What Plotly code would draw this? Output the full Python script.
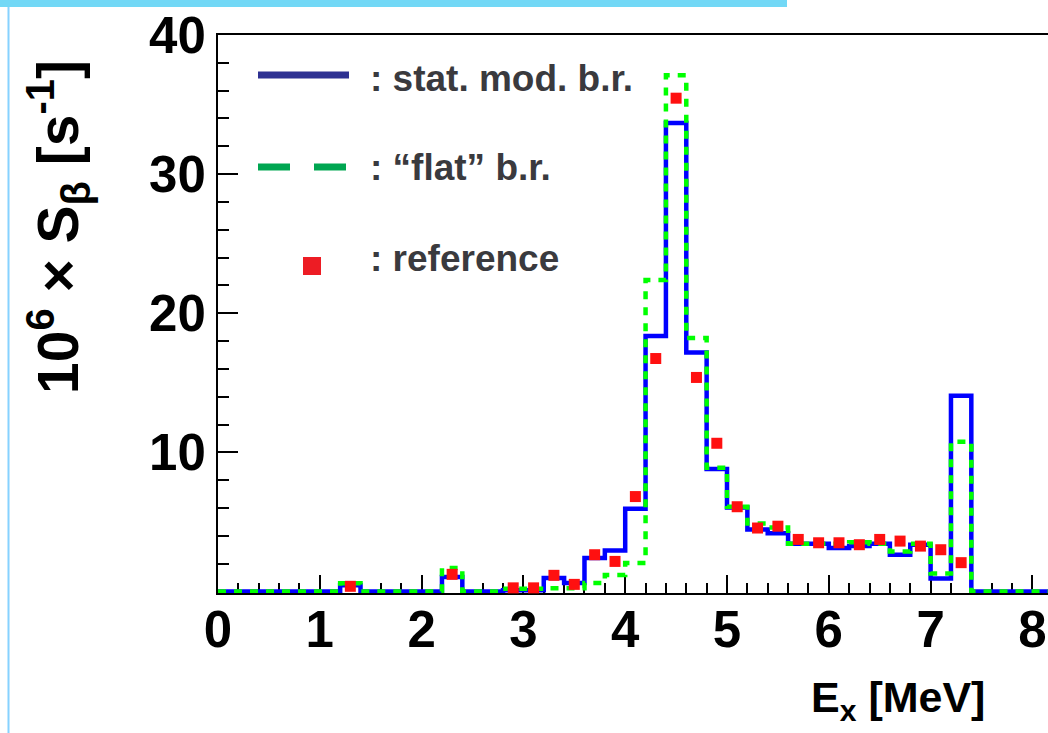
import plotly.graph_objects as go

# Excitation-energy bins (left edges, MeV), 0.2 MeV wide
bin_left = [0.0, 0.2, 0.4, 0.6, 0.8, 1.0, 1.2, 1.4, 1.6, 1.8,
            2.0, 2.2, 2.4, 2.6, 2.8, 3.0, 3.2, 3.4, 3.6, 3.8,
            4.0, 4.2, 4.4, 4.6, 4.8, 5.0, 5.2, 5.4, 5.6, 5.8,
            6.0, 6.2, 6.4, 6.6, 6.8, 7.0, 7.2, 7.4, 7.6, 7.8,
            8.0]
bin_right_end = 8.2

# Beta strength, statistical-model branching ratios
stat_mod = [0, 0, 0, 0, 0, 0, 0.45, 0, 0, 0,
            0, 1.05, 0, 0, 0.1, 0.1, 0.98, 0.62, 2.41, 2.96,
            5.95, 18.37, 33.67, 17.18, 8.82, 6.05, 4.46, 4.2, 3.44, 3.44,
            3.13, 3.27, 3.44, 2.65, 3.37, 0.95, 14.07, 0, 0, 0,
            0]

# Beta strength, "flat" branching ratios
flat_br = [0, 0, 0, 0, 0, 0, 0.6, 0, 0, 0,
           0, 1.7, 0, 0, 0.2, 0.2, 0.25, 0.25, 0.62, 1.2,
           2.05, 22.39, 37.1, 18.23, 8.9, 6.1, 4.9, 4.6, 3.44, 3.44,
           3.44, 3.55, 3.44, 2.89, 3.44, 1.3, 10.77, 0, 0, 0,
           0]

# Reference strength at bin centres
ref_e = [1.3, 2.3, 2.9, 3.1, 3.3, 3.5, 3.7, 3.9, 4.1, 4.3, 4.5, 4.7, 4.9,
         5.1, 5.3, 5.5, 5.7, 5.9, 6.1, 6.3, 6.5, 6.7, 6.9, 7.1, 7.3]
ref_s = [0.38, 1.24, 0.27, 0.27, 1.17, 0.52, 2.65, 2.17, 6.83, 16.75, 35.46, 15.39, 10.66,
         6.1, 4.57, 4.7, 3.75, 3.51, 3.51, 3.37, 3.75, 3.63, 3.27, 3.01, 2.08]

legend_labels = [": stat. mod. b.r.", ": \u201cflat\u201d b.r.", ": reference"]

W, H = 1048, 733
ML, MR, MT, MB = 218, 0, 35, 140
PW, PH = W - ML - MR, H - MT - MB


def px(x):
    return (x - ML) / PW


def py(y):
    return (H - MB - y) / PH


edges = bin_left + [bin_right_end]

fig = go.Figure()
fig.add_trace(go.Scatter(
    x=edges, y=stat_mod + [stat_mod[-1]], mode="lines", line_shape="hv",
    line=dict(color="#0000ff", width=4.5), hoverinfo="skip"))
fig.add_trace(go.Scatter(
    x=edges, y=flat_br + [flat_br[-1]], mode="lines", line_shape="hv",
    line=dict(color="#00ff00", width=4.5, dash="8px,8px"), hoverinfo="skip"))
fig.add_trace(go.Scatter(
    x=ref_e, y=ref_s, mode="markers",
    marker=dict(symbol="square", size=11, color="#ff1010", line=dict(width=0)),
    cliponaxis=False, hoverinfo="skip"))

tick_font = dict(family="Liberation Sans", size=51, color="black", weight="bold")

fig.update_xaxes(
    range=[0, PW / 101.8], showline=True, linecolor="black", linewidth=2,
    mirror=True, ticks="inside", ticklen=18, tickwidth=2, tickcolor="black",
    dtick=1, tick0=0, tickfont=tick_font, showgrid=False, zeroline=False,
    layer="below traces", ticklabelstandoff=-9,
    minor=dict(dtick=0.2, tick0=0, ticks="inside", ticklen=10, tickwidth=2,
               tickcolor="black", showgrid=False))
fig.update_yaxes(
    range=[-0.1, 40], showline=True, linecolor="black", linewidth=2,
    mirror=False, ticks="inside", ticklen=20, tickwidth=2, tickcolor="black",
    tickvals=[10, 20, 30, 40], tickfont=tick_font, showgrid=False,
    zeroline=False, layer="below traces",
    minor=dict(dtick=2, tick0=0, ticks="inside", ticklen=11, tickwidth=2,
               tickcolor="black", showgrid=False))

shapes = []
# header strip and left border
shapes.append(dict(type="rect", xref="paper", yref="paper",
                   x0=px(0), x1=px(787), y0=py(7), y1=py(0),
                   fillcolor="#72d8f6", line=dict(width=0), layer="above"))
shapes.append(dict(type="line", xref="paper", yref="paper",
                   x0=px(8.5), x1=px(8.5), y0=py(7), y1=py(H),
                   line=dict(color="#86d2ff", width=2)))
# legend keys
shapes.append(dict(type="line", xref="paper", yref="paper",
                   x0=px(258), x1=px(349), y0=py(75), y1=py(75),
                   line=dict(color="#2e3192", width=7)))
for a, b in [(258, 290), (314, 346)]:
    shapes.append(dict(type="line", xref="paper", yref="paper",
                       x0=px(a), x1=px(b), y0=py(167), y1=py(167),
                       line=dict(color="#00a651", width=7)))
shapes.append(dict(type="rect", xref="paper", yref="paper",
                   x0=px(303), x1=px(321), y0=py(275), y1=py(257),
                   fillcolor="#ed1c24", line=dict(width=0)))

annotations = []
for label, yc in zip(legend_labels, [78, 167, 258]):
    annotations.append(dict(
        text=label, xref="paper", yref="paper", x=px(368), y=py(yc),
        xanchor="left", yanchor="middle", showarrow=False,
        font=dict(family="Liberation Sans", size=37, color="#3a3a3e", weight="bold")))

annotations.append(dict(
    text="10<sup>6</sup> \u00d7 S<sub>\u03b2</sub> [s<sup>-1</sup>]",
    xref="paper", yref="paper", x=px(58), y=py(227), textangle=-90,
    xanchor="center", yanchor="middle", showarrow=False,
    font=dict(family="Liberation Sans", size=57, color="black", weight="bold")))

annotations.append(dict(
    text="E<sub>x</sub> [MeV]",
    xref="paper", yref="paper", x=px(809), y=py(671),
    xanchor="left", yanchor="top", showarrow=False,
    font=dict(family="Liberation Sans", size=43, color="black", weight="bold")))

fig.update_layout(
    width=W, height=H, margin=dict(l=ML, r=MR, t=MT, b=MB),
    paper_bgcolor="white", plot_bgcolor="white", showlegend=False,
    shapes=shapes, annotations=annotations)

fig.write_html("out.html")
